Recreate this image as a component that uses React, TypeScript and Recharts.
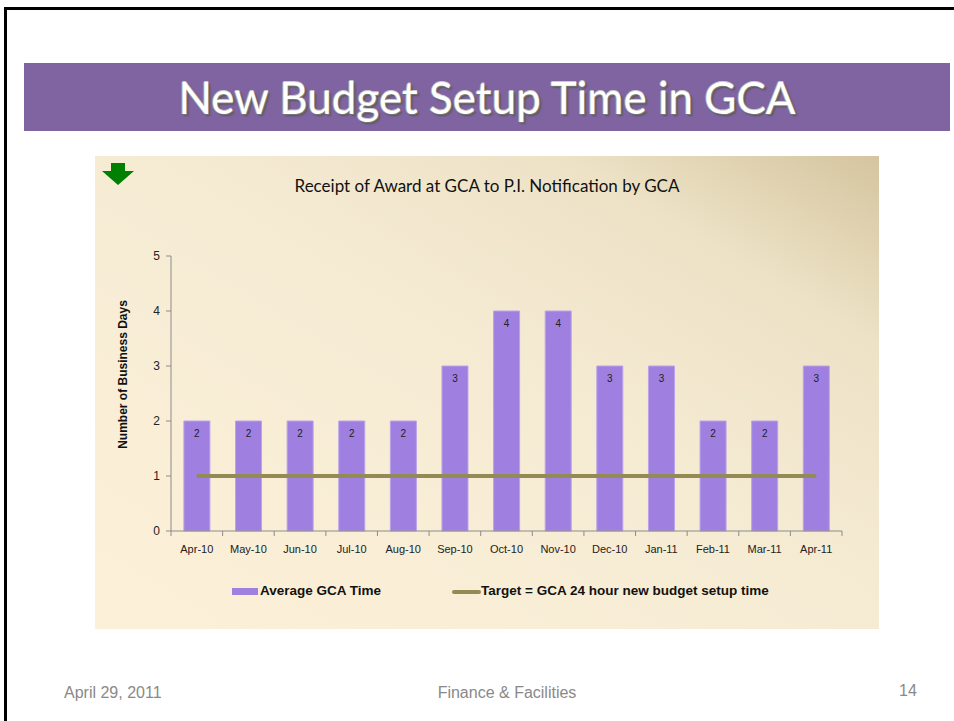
import React from 'react';
import { ComposedChart, Bar, Line, XAxis, YAxis, LabelList, Legend } from 'recharts';

const months = ['Apr-10', 'May-10', 'Jun-10', 'Jul-10', 'Aug-10', 'Sep-10', 'Oct-10', 'Nov-10', 'Dec-10', 'Jan-11', 'Feb-11', 'Mar-11', 'Apr-11'];
const avgGcaTime = [2, 2, 2, 2, 2, 3, 4, 4, 3, 3, 2, 2, 3];
const target = [1, 1, 1, 1, 1, 1, 1, 1, 1, 1, 1, 1, 1];
const yTicks = [0, 1, 2, 3, 4, 5];

const data = months.map((m, i) => ({ month: m, avg: avgGcaTime[i], target: target[i] }));

const CHART_W = 784;
const CHART_H = 473;
const MARGIN = { top: 100, right: 37, bottom: 48, left: 56 };
const Y_W = 20;
const plotW = CHART_W - MARGIN.left - MARGIN.right - Y_W;
const band = plotW / months.length;

const font = '"Liberation Sans", Arial, sans-serif';

const XTick = (props: any) => {
  const { x, y, payload, index } = props;
  const half = band / 2;
  return (
    <g>
      <line x1={x - half} y1={y - 8} x2={x - half} y2={y - 3} stroke="#8c8c8c" />
      {index === months.length - 1 && (
        <line x1={x + half} y1={y - 8} x2={x + half} y2={y - 3} stroke="#8c8c8c" />
      )}
      <text x={x} y={y + 14} textAnchor="middle" fontSize={11} fill="#222" fontFamily={font}>
        {payload.value}
      </text>
    </g>
  );
};

const LegendContent = () => (
  <div style={{ position: 'relative', height: 20, fontFamily: font, fontSize: 13.5, fontWeight: 'bold', color: '#111' }}>
    <div style={{ position: 'absolute', left: 137, top: 7, width: 26, height: 7, background: '#9f7fe0' }} />
    <div style={{ position: 'absolute', left: 165, top: 2 }}>Average GCA Time</div>
    <div style={{ position: 'absolute', left: 357, top: 9, width: 29, height: 4, borderRadius: 2, background: '#948a54' }} />
    <div style={{ position: 'absolute', left: 386, top: 2 }}>Target = GCA 24 hour new budget setup time</div>
  </div>
);

export default function App() {
  return (
    <div style={{ position: 'absolute', left: 0, top: 0, width: 954, height: 721, background: '#fff', overflow: 'hidden' }}>
      <div style={{ position: 'absolute', left: 4, top: 7, width: 1000, height: 800, border: '3px solid #000', boxSizing: 'border-box' }} />
      <div
        style={{
          position: 'absolute',
          left: 24,
          top: 63,
          width: 926,
          height: 68,
          background: '#8064a2',
          display: 'flex',
          alignItems: 'center',
          justifyContent: 'center',
          color: '#fff',
          fontFamily: 'Lato, "Open Sans", sans-serif',
          fontSize: 44,
          textShadow: '1px 1px 0 #777, -1px 0 0 #aaa, 0 -1px 0 #ccc, 2px 2px 2px #555',
        }}
      >
        New Budget Setup Time in GCA
      </div>
      <div
        style={{
          position: 'absolute',
          left: 95,
          top: 156,
          width: CHART_W,
          height: CHART_H,
          background: 'linear-gradient(to top right, #fdf0d9 0%, #f5ebd3 55%, #ede2c6 80%, #d5c59f 100%)',
        }}
      >
        <svg style={{ position: 'absolute', left: 6, top: 7 }} width={34} height={22}>
          <polygon points="10,0 24,0 24,8 33,8 17,22 1,8 10,8" fill="#008000" />
        </svg>
        <div
          style={{
            position: 'absolute',
            left: 0,
            width: CHART_W,
            top: 19,
            textAlign: 'center',
            fontFamily: 'Lato, "Open Sans", sans-serif',
            fontSize: 17,
            color: '#111',
          }}
        >
          Receipt of Award at GCA to P.I. Notification by GCA
        </div>
        <ComposedChart width={CHART_W} height={CHART_H} data={data} margin={MARGIN} barCategoryGap="25%">
          <XAxis
            dataKey="month"
            tick={<XTick />}
            tickLine={false}
            axisLine={{ stroke: '#8c8c8c' }}
            interval={0}
            height={30}
          />
          <YAxis
            domain={[0, 5]}
            ticks={yTicks}
            width={Y_W}
            tick={{ fontSize: 12, fill: '#222', fontFamily: font }}
            tickLine={{ stroke: '#8c8c8c' }}
            tickSize={5}
            tickMargin={6}
            axisLine={{ stroke: '#8c8c8c' }}
            label={{
              value: 'Number of Business Days',
              angle: -90,
              position: 'insideLeft',
              offset: -28,
              dy: -19,
              style: { textAnchor: 'middle', fontSize: 12, fontWeight: 'bold', fill: '#111', fontFamily: font },
            }}
          />
          <Legend
            content={<LegendContent />}
            verticalAlign="bottom"
            wrapperStyle={{ bottom: 28, left: 0, width: CHART_W }}
          />
          <Bar dataKey="avg" name="Average GCA Time" fill="#9f7fe0" stroke="#b9a3ea" strokeWidth={1} isAnimationActive={false}>
            <LabelList dataKey="avg" position="insideTop" offset={9} style={{ fontSize: 10, fill: '#222', fontFamily: font }} />
          </Bar>
          <Line
            dataKey="target"
            name="Target = GCA 24 hour new budget setup time"
            stroke="#948a54"
            strokeWidth={4}
            dot={false}
            activeDot={false}
            isAnimationActive={false}
          />
        </ComposedChart>
      </div>
      <div style={{ position: 'absolute', left: 64, top: 684, fontFamily: font, fontSize: 16, color: '#898989' }}>April 29, 2011</div>
      <div style={{ position: 'absolute', left: 0, width: 1014, top: 684, textAlign: 'center', fontFamily: font, fontSize: 16, color: '#898989' }}>
        Finance &amp; Facilities
      </div>
      <div style={{ position: 'absolute', left: 899, top: 682, fontFamily: font, fontSize: 16, color: '#898989' }}>14</div>
    </div>
  );
}
